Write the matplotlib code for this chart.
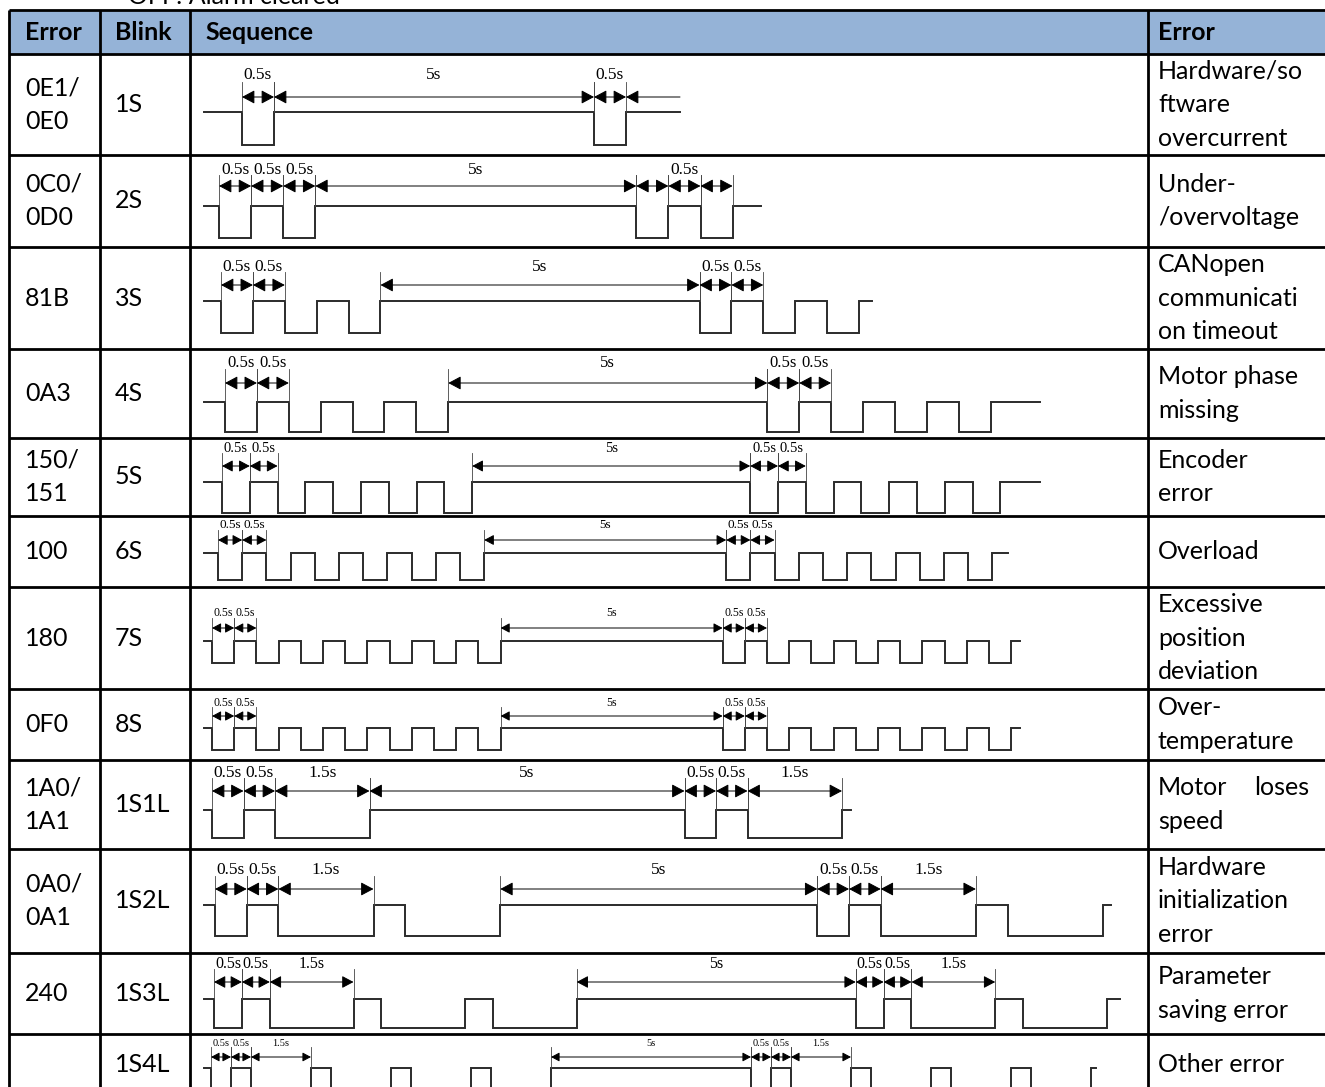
"""Blink-code table for drive alarms: error codes, blink pattern and timing diagrams."""

import matplotlib

matplotlib.use("Agg")
import matplotlib.pyplot as plt
from matplotlib.patches import Rectangle

W, H = 1325, 1087

# ---- table content ----
codes = [["0E1/", "0E0"], ["0C0/", "0D0"], ["81B"], ["0A3"], ["150/", "151"], ["100"],
         ["180"], ["0F0"], ["1A0/", "1A1"], ["0A0/", "0A1"], ["240"], []]
blinks = ["1S", "2S", "3S", "4S", "5S", "6S", "7S", "8S", "1S1L", "1S2L", "1S3L", "1S4L"]
errors = [
    ["Hardware/so", "ftware", "overcurrent"],
    ["Under-", "/overvoltage"],
    ["CANopen", "communicati", "on timeout"],
    ["Motor phase", "missing"],
    ["Encoder", "error"],
    ["Overload"],
    ["Excessive", "position", "deviation"],
    ["Over-", "temperature"],
    ["Motor  loses", "speed"],
    ["Hardware", "initialization", "error"],
    ["Parameter", "saving error"],
    ["Other error"],
]
headers = ["Error", "Blink", "Sequence", "Error"]

# ---- blink sequences: segment durations in s, alternating low / high, starting low ----
sequences = [
    [0.5, 5, 0.5],
    [0.5, 0.5, 0.5, 5, 0.5, 0.5, 0.5],
    [0.5] * 5 + [5] + [0.5] * 5,
    [0.5] * 7 + [5] + [0.5] * 7,
    [0.5] * 9 + [5] + [0.5] * 9,
    [0.5] * 11 + [5] + [0.5] * 11,
    [0.5] * 13 + [5] + [0.5] * 13,
    [0.5] * 13 + [5] + [0.5] * 13,
    [0.5, 0.5, 1.5, 5, 0.5, 0.5, 1.5],
    [0.5, 0.5, 1.5, 0.5, 1.5, 5, 0.5, 0.5, 1.5, 0.5, 1.5],
    [0.5, 0.5, 1.5, 0.5, 1.5, 0.5, 1.5, 5, 0.5, 0.5, 1.5, 0.5, 1.5],
    [0.5, 0.5, 1.5, 0.5, 1.5, 0.5, 1.5, 0.5, 1.5, 5,
     0.5, 0.5, 1.5, 0.5, 1.5, 0.5, 1.5, 0.5, 1.5],
]

# dimension arrows: segment index -> label
dims = [
    {0: "0.5s", 1: "5s", 2: "0.5s"},
    {0: "0.5s", 1: "0.5s", 2: "0.5s", 3: "5s", 4: "", 5: "0.5s", 6: ""},
    {0: "0.5s", 1: "0.5s", 5: "5s", 6: "0.5s", 7: "0.5s"},
    {0: "0.5s", 1: "0.5s", 7: "5s", 8: "0.5s", 9: "0.5s"},
    {0: "0.5s", 1: "0.5s", 9: "5s", 10: "0.5s", 11: "0.5s"},
    {0: "0.5s", 1: "0.5s", 11: "5s", 12: "0.5s", 13: "0.5s"},
    {0: "0.5s", 1: "0.5s", 13: "5s", 14: "0.5s", 15: "0.5s"},
    {0: "0.5s", 1: "0.5s", 13: "5s", 14: "0.5s", 15: "0.5s"},
    {0: "0.5s", 1: "0.5s", 2: "1.5s", 3: "5s", 4: "0.5s", 5: "0.5s", 6: "1.5s"},
    {0: "0.5s", 1: "0.5s", 2: "1.5s", 5: "5s", 6: "0.5s", 7: "0.5s", 8: "1.5s"},
    {0: "0.5s", 1: "0.5s", 2: "1.5s", 7: "5s", 8: "0.5s", 9: "0.5s", 10: "1.5s"},
    {0: "0.5s", 1: "0.5s", 2: "1.5s", 9: "5s", 10: "0.5s", 11: "0.5s", 12: "1.5s"},
]

# ---- layout (pixels) ----
col_x = [9, 100, 190, 1148]
row_y = [10, 54, 155, 247, 349, 438, 516, 587, 689, 760, 849, 953, 1034, 1095]
LINE_GAP = 33.5
SANS = ["Lato", "DejaVu Sans"]
SERIF = ["Liberation Serif", "DejaVu Serif"]
BODY_FS = 18

# px per second, first falling edge, end of trace, label y, arrow y, high y, low y, label size, arrow scale
diag = [
    (64.0, 242, 680, 75, 97, 112, 145, 12.5, 1.0),
    (64.2, 219, 761, 170, 186, 206, 238, 12.5, 1.0),
    (63.8, 221, 872, 267, 285, 301, 333, 12.5, 1.0),
    (63.8, 225, 1040, 363, 383, 402, 432, 12, 1.0),
    (55.6, 222, 1040, 448, 466, 482, 513, 10.5, 0.85),
    (48.4, 218, 1008, 525, 540, 553, 580, 9.5, 0.75),
    (44.4, 212, 1020, 613, 628, 641, 663, 8.5, 0.7),
    (44.4, 212, 1020, 703, 716, 728, 750, 8.5, 0.7),
    (63.0, 212, 851, 773, 791, 810, 838, 12.5, 1.0),
    (63.4, 215, 1111, 870, 889, 905, 936, 12.5, 1.0),
    (55.8, 214, 1120, 964, 982, 999, 1028, 11.5, 0.9),
    (40.0, 211, 1096, 1043, 1057, 1068, 1090, 7.5, 0.65),
]
LEAD_X = 204

fig = plt.figure(figsize=(W / 100, H / 100), dpi=100)
ax = fig.add_axes([0, 0, 1, 1])
ax.set_xlim(0, W)
ax.set_ylim(H, 0)
ax.axis("off")

# text cut at the top edge, as in the source
ax.text(128, 4, "OFF: Alarm cleared", family=SANS, fontsize=BODY_FS, va="baseline")

# header band
ax.add_patch(Rectangle((col_x[0], row_y[0]), W - col_x[0], row_y[1] - row_y[0],
                       facecolor="#95B3D7", edgecolor="none", zorder=0))
text_x = [25, 115, 205, 1158]
for x, h in zip(text_x, headers):
    ax.text(x, (row_y[0] + row_y[1]) / 2, h, family=SANS, fontsize=BODY_FS,
            fontweight="bold", va="center", ha="left")

# grid
for y in row_y[:-1]:
    ax.plot([col_x[0], W], [y, y], color="black", lw=2.0, solid_capstyle="butt")
for x in col_x:
    ax.plot([x, x], [row_y[0], H], color="black", lw=2.0, solid_capstyle="butt")


def cell_lines(x, top, bottom, lines, justify_first=False):
    mid = (top + bottom) / 2
    n = len(lines)
    for k, line in enumerate(lines):
        y = mid + (k - (n - 1) / 2) * LINE_GAP
        if justify_first and k == 0:
            a, b = line.split()
            ax.text(x, y, a, family=SANS, fontsize=BODY_FS, va="center", ha="left")
            ax.text(1309, y, b, family=SANS, fontsize=BODY_FS, va="center", ha="right")
        else:
            ax.text(x, y, line, family=SANS, fontsize=BODY_FS, va="center", ha="left")


for i in range(len(blinks)):
    top, bottom = row_y[i + 1], row_y[i + 2]
    cell_lines(text_x[0], top, bottom, codes[i])
    cell_lines(text_x[1], top, bottom, [blinks[i]])
    cell_lines(text_x[3], top, bottom, errors[i], justify_first=(i == 8))

    pps, fall, tail, ly, ay, hi, lo, fs, ms = diag[i]
    edges = [fall]
    for d in sequences[i]:
        edges.append(edges[-1] + d * pps)

    # waveform
    xs, ys = [LEAD_X, edges[0]], [hi, hi]
    level = hi
    for e in edges:
        level = lo if level == hi else hi
        xs += [e, e]
        ys += [ys[-1], level]
    xs.append(tail)
    ys.append(level)
    ax.plot(xs, ys, color="#2b2b2b", lw=1.4, solid_joinstyle="miter")

    # dimension arrows
    ext_top = ay - (ay - ly) * 0.7
    style = "<|-|>,head_length=0.6,head_width=0.32"
    for j, lab in dims[i].items():
        x0, x1 = edges[j], edges[j + 1]
        ax.annotate("", xy=(x1, ay), xytext=(x0, ay),
                    arrowprops=dict(arrowstyle=style, color="black", lw=0.7,
                                    mutation_scale=13 * ms, shrinkA=0, shrinkB=0))
        for x in (x0, x1):
            ax.plot([x, x], [ext_top, hi], color="#444444", lw=0.6)
        if lab:
            ax.text((x0 + x1) / 2, ly, lab, family=SERIF, fontsize=fs,
                    ha="center", va="center")
    if i == 0:
        ax.annotate("", xy=(edges[-1], ay), xytext=(tail, ay),
                    arrowprops=dict(arrowstyle="-|>,head_length=0.6,head_width=0.32",
                                    color="black", lw=0.7, mutation_scale=13,
                                    shrinkA=0, shrinkB=0))

fig.savefig("out.png", dpi=100)
